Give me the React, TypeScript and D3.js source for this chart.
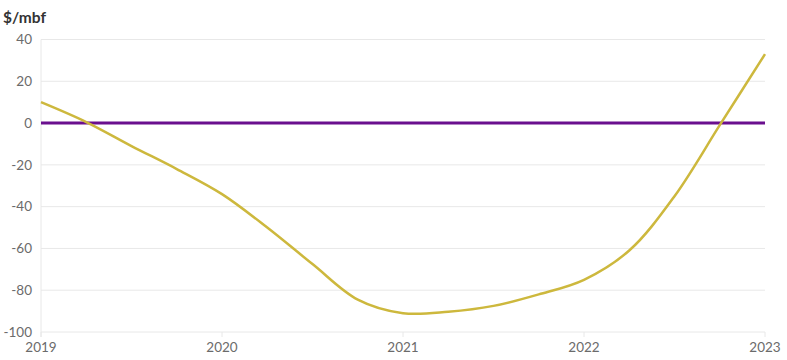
import React from "react";
import * as d3 from "d3";

const years = [2019, 2019.25, 2019.5, 2019.75, 2020, 2020.25, 2020.5, 2020.75, 2021, 2021.25, 2021.5, 2021.75, 2022, 2022.25, 2022.5, 2022.75, 2023];
const spread = [10, 0.5, -11, -22, -34, -50, -67.5, -84.5, -91, -90.3, -87.5, -82, -75, -61, -35, -1, 33];
const zeroLine = [0, 0];
const zeroYears = [2019, 2023];
const yTicks = [40, 20, 0, -20, -40, -60, -80, -100];
const xTicks = [2019, 2020, 2021, 2022, 2023];
const yTitle = "$/mbf";

export default function App() {
  const W = 787, H = 360;
  const left = 41, right = 765, top = 39.5, bottom = 332;
  const x = d3.scaleLinear().domain([2019, 2023]).range([left, right]);
  const y = d3.scaleLinear().domain([-100, 40]).range([bottom, top]);
  const line = d3.line<[number, number]>().x(d => x(d[0])).y(d => y(d[1])).curve(d3.curveCatmullRom.alpha(0.5));
  const goldPts = years.map((t, i) => [t, spread[i]] as [number, number]);
  const zeroPts = zeroYears.map((t, i) => [t, zeroLine[i]] as [number, number]);
  const font = "Lato, 'Open Sans', sans-serif";
  return (
    <svg width={W} height={H} style={{ position: "absolute", left: 0, top: 0 }}>
      <text x={3} y={23} fontFamily={font} fontWeight={700} fontSize={15.5} fill="#333">{yTitle}</text>
      {yTicks.map(t => (
        <g key={t}>
          <line x1={left} x2={right} y1={y(t)} y2={y(t)} stroke="#e8e8e8" strokeWidth={1} />
          <text x={32} y={y(t)} dy="0.35em" textAnchor="end" fontFamily={font} fontSize={13.5} fill="#6b6b6b">{t < 0 ? "-" + Math.abs(t) : t}</text>
        </g>
      ))}
      <line x1={left} x2={left} y1={top} y2={bottom + 5} stroke="#e8e8e8" strokeWidth={1} />
      {xTicks.map(t => (
        <g key={t}>
          <line x1={x(t)} x2={x(t)} y1={bottom} y2={bottom + 5} stroke="#e8e8e8" strokeWidth={1} />
          <text x={x(t)} y={352} textAnchor="middle" fontFamily={font} fontSize={13.5} fill="#6b6b6b">{t}</text>
        </g>
      ))}
      <path d={line(zeroPts) || ""} fill="none" stroke="#6a0f8e" strokeWidth={3} />
      <path d={line(goldPts) || ""} fill="none" stroke="#cdb83d" strokeWidth={2.5} />
    </svg>
  );
}
